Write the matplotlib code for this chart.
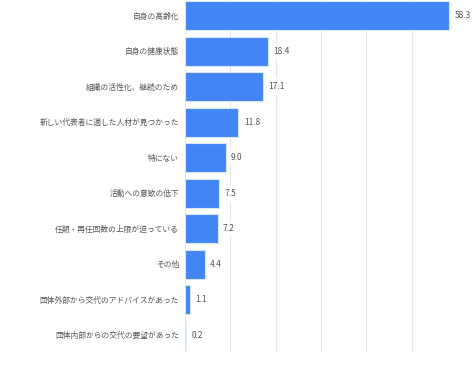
import matplotlib
matplotlib.use("Agg")
import matplotlib.pyplot as plt

plt.rcParams['font.family'] = ['Noto Sans CJK JP', 'DejaVu Sans']

categories = [
    "自身の高齢化",
    "自身の健康状態",
    "組織の活性化、継続のため",
    "新しい代表者に適した人材が見つかった",
    "特にない",
    "活動への意欲の低下",
    "任期・再任回数の上限が迫っている",
    "その他",
    "団体外部から交代のアドバイスがあった",
    "団体内部からの交代の要望があった",
]
values = [58.3, 18.4, 17.1, 11.8, 9.0, 7.5, 7.2, 4.4, 1.1, 0.2]
xticks = [0, 10, 20, 30, 40, 50, 60]

fig = plt.figure(figsize=(4.76, 3.66), dpi=100)
ax = fig.add_axes([185/476, 13/366, (457-185)/476, (366-13+2)/366])

y = list(range(len(categories)))
ax.barh(y, values, height=0.82, color='#4285F4', edgecolor='#d6e6fb', linewidth=0.8, zorder=3)
ax.set_ylim(len(categories) - 0.5, -0.5)
ax.set_xlim(0, 60)
ax.set_xticks(xticks)
ax.xaxis.grid(True, color='#e4e4e4', linewidth=0.8, zorder=0)
ax.tick_params(axis='x', length=0, labelbottom=False)
ax.tick_params(axis='y', length=0, pad=4.3, labelsize=5.6, labelcolor='#555555')
ax.set_yticks(y)
ax.set_yticklabels(categories)
for s in ax.spines.values():
    s.set_visible(False)

for yi, v in zip(y, values):
    ax.annotate(f"{v:.1f}", xy=(v, yi), xytext=(3.8, 0), textcoords='offset points',
                va='center', ha='left', fontsize=6, color='#555555', zorder=4,
                bbox=dict(boxstyle='square,pad=0.5', facecolor='white', edgecolor='none', alpha=0.8))

fig.savefig("out.png", dpi=100)
